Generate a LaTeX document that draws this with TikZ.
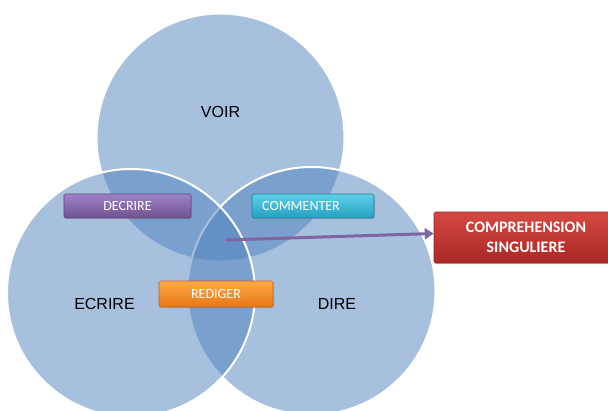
\documentclass[tikz,border=0pt]{standalone}
\usepackage{fontspec}
\setmainfont{Liberation Sans}
\newfontfamily\boxfont{Carlito}
\usetikzlibrary{arrows.meta,shadows}
\definecolor{vennblue}{RGB}{79,129,189}
\definecolor{arrowpurple}{RGB}{128,100,162}
\tikzset{
  venncircle/.style={circle, minimum size=248pt, inner sep=0pt, fill=vennblue, fill opacity=0.5, draw=white, draw opacity=1, line width=2pt},
  vennlabel/.style={inner sep=0pt, font=\fontsize{16}{19}\selectfont, text=black},
  tagbox/.style={rectangle, rounded corners=1.5pt, inner sep=0pt, font=\boxfont\fontsize{14}{16}\selectfont, text=white, line width=0.6pt,
     drop shadow={opacity=0.35, shadow xshift=1.2pt, shadow yshift=-1.2pt}},
  purplebox/.style={tagbox, top color={rgb,255:red,160;green,128;blue,202}, bottom color={rgb,255:red,110;green,84;blue,142}, draw={rgb,255:red,92;green,70;blue,118}},
  cyanbox/.style={tagbox, top color={rgb,255:red,92;green,208;blue,234}, bottom color={rgb,255:red,38;green,160;blue,192}, draw={rgb,255:red,30;green,128;blue,156}},
  orangebox/.style={tagbox, top color={rgb,255:red,255;green,170;blue,70}, bottom color={rgb,255:red,232;green,118;blue,22}, draw={rgb,255:red,196;green,98;blue,20}},
  redbox/.style={tagbox, top color={rgb,255:red,214;green,72;blue,66}, bottom color={rgb,255:red,168;green,40;blue,38}, draw={rgb,255:red,140;green,36;blue,32}, font=\boxfont\bfseries\fontsize{16}{20}\selectfont, align=center},
  linkarrow/.style={draw=arrowpurple, line width=3pt, -{Triangle[length=9pt,width=11pt]}}
}
\begin{document}
\begin{tikzpicture}[x=1pt,y=-1pt]
\useasboundingbox (0,0) rectangle (608,410);
\clip (0,0) rectangle (608,410);
% circles
\node[venncircle] (voir) at (220.5,137.5) {};
\node[venncircle] (dire) at (311.5,291) {};
\node[venncircle] (ecrire) at (131,293) {};
% circle labels
\node[vennlabel] (voirlbl) at (220.5,112) {VOIR};
\node[vennlabel] (ecrirelbl) at (104.5,303.5) {ECRIRE};
\node[vennlabel] (direlbl) at (337,303.5) {DIRE};
% tag boxes
\node[purplebox, minimum width=127pt, minimum height=24pt] (decrire) at (127.5,206) {DECRIRE};
\node[cyanbox, minimum width=122pt, minimum height=24pt] (commenter) at (313,206) {\hspace*{-24pt}COMMENTER};
\node[orangebox, minimum width=114pt, minimum height=26pt] (rediger) at (216,294) {REDIGER};
\node[redbox, minimum width=184pt, minimum height=51pt] (comp) at (526,237.5) {COMPREHENSION\\SINGULIERE};
% arrow
\coordinate (center3) at (226,240);
\draw[linkarrow] (center3) -- ([yshift=4pt]comp.west);
\end{tikzpicture}
\end{document}
